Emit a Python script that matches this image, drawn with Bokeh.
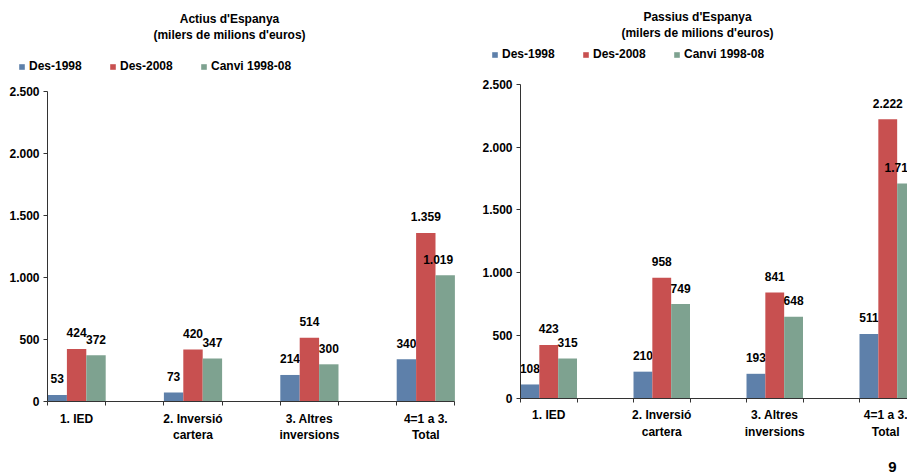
from bokeh.plotting import figure
from bokeh.layouts import row
from bokeh.models import ColumnDataSource, FixedTicker, Legend, LegendItem, Label
from bokeh.core.properties import value
from bokeh.embed import file_html
from bokeh.resources import INLINE

# ---------------- data ----------------
categories = ["1. IED", "2. Inversió\ncartera", "3. Altres\ninversions", "4=1 a 3.\nTotal"]
series_names = ["Des-1998", "Des-2008", "Canvi 1998-08"]

actius_1998 = [53, 73, 214, 340]
actius_2008 = [424, 420, 514, 1359]
actius_canvi = [372, 347, 300, 1019]

passius_1998 = [108, 210, 193, 511]
passius_2008 = [423, 958, 841, 2222]
passius_canvi = [315, 749, 648, 1711]

y_ticks = [0, 500, 1000, 1500, 2000, 2500]
y_tick_labels = ["0", "500", "1.000", "1.500", "2.000", "2.500"]
y_max = 2500

colors = ["#5E80AA", "#C85050", "#7EA290"]
FONT = "Liberation Sans"
AXIS_COLOR = "#333333"
W_H = 475


def fmt(v):
    return f"{v:,}".replace(",", ".")


def make_chart(t1, t2, series, width, page_left, axis_x, unit_px, y0_px, ytop_px,
               n_units, title_cx, t1_y, t2_y, legend_x, legend_y, page_no=None):
    # pixel geometry -> data ranges (frame covers the whole canvas)
    x_start = -(axis_x - page_left) / unit_px
    x_end = x_start + width / unit_px
    y_unit = (y0_px - ytop_px) / y_max
    y_start = -(W_H - y0_px) / y_unit
    y_end = y0_px / y_unit
    x_axis_end = min(n_units, x_end)

    p = figure(width=width, height=W_H, x_range=(x_start, x_end), y_range=(y_start, y_end),
               output_backend="svg", toolbar_location=None, title=None,
               min_border=0, min_border_left=0, min_border_right=0,
               min_border_top=0, min_border_bottom=0)
    p.outline_line_color = None
    p.xgrid.visible = False
    p.ygrid.visible = False
    p.background_fill_color = "white"
    p.border_fill_color = "white"

    items = []
    for j, vals in enumerate(series):
        xs = [2 * i + (j + 0.5) / 3 for i in range(len(vals))]
        labels = [fmt(v) for v in vals]
        dx = []
        for x, lab in zip(xs, labels):
            # keep a data label inside the plot area, as the original does
            half_w = len(lab) * 6.3 / 2
            right_px = x * unit_px + half_w
            limit = n_units * unit_px - 1
            dx.append(min(0, limit - right_px))
        src = ColumnDataSource(dict(x=xs, top=vals, label=labels, dx=dx))
        r = p.vbar(x="x", top="top", width=1 / 3, source=src,
                   fill_color=colors[j], line_color=None)
        p.text(x="x", y="top", text="label", x_offset="dx", y_offset=-16, source=src,
               text_align="center", text_baseline="alphabetic",
               text_font=value(FONT), text_font_style="bold",
               text_font_size="12px", text_color="black")
        items.append(LegendItem(label=series_names[j], renderers=[r]))

    legend = Legend(items=items, location=(legend_x - page_left, W_H - legend_y),
                    orientation="horizontal",
                    glyph_width=7, glyph_height=7, label_standoff=4, spacing=10,
                    label_width=70, label_height=14, padding=0, margin=0,
                    border_line_color=None, background_fill_alpha=0,
                    label_text_font=FONT, label_text_font_style="bold",
                    label_text_font_size="12px", label_text_color="black")
    p.add_layout(legend)

    for txt, ty in ((t1, t1_y), (t2, t2_y)):
        p.add_layout(Label(x=title_cx - page_left, y=W_H - ty, x_units="screen", y_units="screen",
                           text=txt, text_align="center", text_baseline="middle",
                           text_font=FONT, text_font_style="bold",
                           text_font_size="12px", text_color="black"))

    # x axis, drawn at y = 0
    xa = p.xaxis[0]
    xa.fixed_location = 0
    xa.bounds = (0, x_axis_end)
    xa.ticker = FixedTicker(ticks=[2 * i + 0.5 for i in range(len(categories))],
                            minor_ticks=list(range(0, n_units + 1)))
    xa.major_label_overrides = {2 * i + 0.5: c for i, c in enumerate(categories)}
    xa.major_tick_out = 0
    xa.major_tick_in = 0
    xa.minor_tick_out = 4
    xa.minor_tick_in = 0
    xa.minor_tick_line_color = AXIS_COLOR
    xa.axis_line_color = AXIS_COLOR
    xa.major_label_standoff = 6
    xa.major_label_text_font = FONT
    xa.major_label_text_font_style = "bold"
    xa.major_label_text_font_size = "12px"
    xa.major_label_text_color = "black"

    # y axis, drawn at x = 0
    ya = p.yaxis[0]
    ya.fixed_location = 0
    ya.bounds = (0, y_max)
    ya.ticker = FixedTicker(ticks=y_ticks, minor_ticks=[])
    ya.major_label_overrides = {t: l for t, l in zip(y_ticks, y_tick_labels)}
    ya.major_tick_out = 4
    ya.major_tick_in = 0
    ya.major_tick_line_color = AXIS_COLOR
    ya.axis_line_color = AXIS_COLOR
    ya.minor_tick_line_color = None
    ya.major_label_standoff = 4
    ya.major_label_text_font = FONT
    ya.major_label_text_font_style = "bold"
    ya.major_label_text_font_size = "12px"
    ya.major_label_text_color = "black"

    if page_no is not None:
        txt, (px, py) = page_no
        p.add_layout(Label(x=px - page_left, y=W_H - py, x_units="screen", y_units="screen",
                           text=txt, text_align="center", text_baseline="middle",
                           text_font=FONT, text_font_style="bold",
                           text_font_size="15px", text_color="black"))
    return p


left = make_chart("Actius d'Espanya", "(milers de milions d'euros)",
                  [actius_1998, actius_2008, actius_canvi],
                  width=460, page_left=0, axis_x=47, unit_px=58.2, y0_px=401, ytop_px=91,
                  n_units=7, title_cx=229, t1_y=18, t2_y=34,
                  legend_x=18, legend_y=73)

right = make_chart("Passius d'Espanya", "(milers de milions d'euros)",
                   [passius_1998, passius_2008, passius_canvi],
                   width=447, page_left=460, axis_x=520, unit_px=56.5, y0_px=397.5, ytop_px=84,
                   n_units=7, title_cx=697, t1_y=16, t2_y=32,
                   legend_x=491, legend_y=61,
                   page_no=("9", (892, 466)))

layout = row(left, right, spacing=0)
open("out.html", "w").write(file_html(layout, INLINE))
